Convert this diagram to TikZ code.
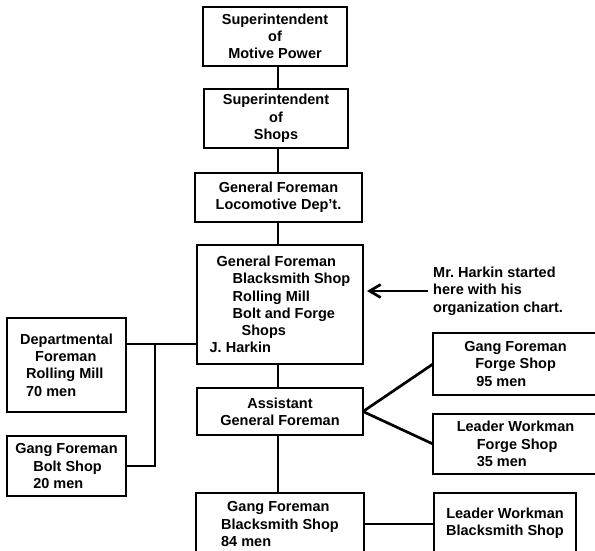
\documentclass[tikz,border=0pt]{standalone}
\usepackage{fontspec}
\setmainfont{Liberation Sans}
\usetikzlibrary{arrows.meta, positioning}

\begin{document}
\begin{tikzpicture}[
    x=1pt, y=-1pt,
    font=\fontsize{14.5}{17.3}\selectfont\bfseries,
    post/.style={rectangle, draw, line width=2.2pt, inner sep=2pt,
                 outer sep=0pt, align=center},
    leftpost/.style={post, align=left},
    link/.style={line width=2.7pt},
    pointer/.style={-{Straight Barb[length=11pt, width=13pt]}, line width=2.7pt}
]
\useasboundingbox (0,0) rectangle (595,550);

% Main line of command (middle column)
\node[post, minimum width=144pt, minimum height=59pt] at (275,36.5) (motive)
    {Superintendent\\of\\Motive Power};
\node[post, minimum width=144pt, minimum height=59pt, below=23pt of motive, xshift=1pt] (shops)
    {Superintendent\\of\\Shops};
\node[post, minimum width=167pt, minimum height=49pt, below=25pt of shops, xshift=2.5pt] (loco)
    {General Foreman\\Locomotive Dep't.};
\node[leftpost, minimum width=166pt, minimum height=119pt, below=23pt of loco, xshift=1.5pt] (harkin)
    {\hspace*{7pt}General Foreman\\
     \hspace*{23pt}Blacksmith Shop\\
     \hspace*{23pt}Rolling Mill\\
     \hspace*{23pt}Bolt and Forge\\
     \hspace*{32pt}Shops\\
     J. Harkin};
\node[post, minimum width=166pt, minimum height=47pt, below=24pt of harkin] (assist)
    {Assistant\\General Foreman};
\node[leftpost, minimum width=168pt, minimum height=62pt, below=58pt of assist] (gangbs)
    {\hspace*{6pt}Gang Foreman\\Blacksmith Shop\\84 men};

% Left column
\node[leftpost, minimum width=119pt, minimum height=94pt] at (66.5,365) (rolling)
    {Departmental\\\hspace*{15pt}Foreman\\\hspace*{6pt}Rolling Mill\\\hspace*{6pt}70 men};
\node[leftpost, minimum width=119pt, minimum height=60pt, below=24pt of rolling] (bolt)
    {Gang Foreman\\\hspace*{18pt}Bolt Shop\\\hspace*{18pt}20 men};

% Right column
\node[leftpost, minimum width=165pt, minimum height=62pt] at (515.5,364) (gangforge)
    {Gang Foreman\\\hspace*{11pt}Forge Shop\\\hspace*{12pt}95 men};
\node[leftpost, minimum width=165pt, minimum height=60pt, below=19pt of gangforge] (leadforge)
    {Leader Workman\\\hspace*{20pt}Forge Shop\\\hspace*{20pt}35 men};
\node[post, minimum width=142pt, minimum height=60pt] at (505,523) (leadbs)
    {Leader Workman\\Blacksmith Shop};

% Note
\node[align=left, anchor=west, inner sep=0pt] at (433,291) (note)
    {Mr.\ Harkin started\\here with his\\organization chart.};

\coordinate (trunk) at (278,0);
\coordinate (split) at (155,344);

% Vertical trunk
\draw[link] (motive.south -| trunk) -- (shops.north -| trunk);
\draw[link] (shops.south -| trunk) -- (loco.north -| trunk);
\draw[link] (loco.south -| trunk) -- (harkin.north -| trunk);
\draw[link] (harkin.south -| trunk) -- (assist.north -| trunk);
\draw[link] (assist.south -| trunk) -- (gangbs.north -| trunk);

% Branches
\draw[link] (rolling.east |- split) -- (harkin.west |- split);
\draw[link] (split) |- (bolt.east);
\draw[link] (assist.east) -- (gangforge.west);
\draw[link] (assist.east) -- (leadforge.west);
\draw[link] (gangbs.east) -- (gangbs.east -| leadbs.west);

\draw[pointer, shorten <=5pt, shorten >=4pt] (note.west) -- (note.west -| harkin.east);
\end{tikzpicture}
\end{document}
